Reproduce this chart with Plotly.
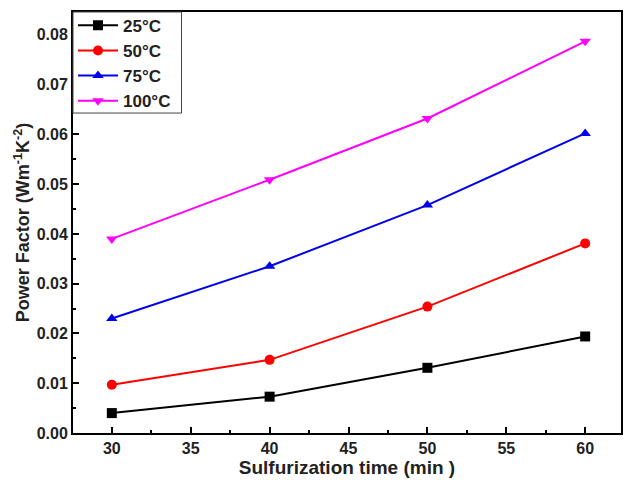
import plotly.graph_objects as go

time_min = [30, 40, 50, 60]
pf_25 = [0.0040, 0.0073, 0.0131, 0.0194]
pf_50 = [0.0097, 0.0147, 0.0254, 0.0381]
pf_75 = [0.0230, 0.0335, 0.0458, 0.0602]
pf_100 = [0.0390, 0.0509, 0.0632, 0.0787]

series = [
    ("25°C", pf_25, "#000000", "square"),
    ("50°C", pf_50, "#ff0000", "circle"),
    ("75°C", pf_75, "#0000ee", "triangle-up"),
    ("100°C", pf_100, "#ff00ff", "triangle-down"),
]

fig = go.Figure()
for name, vals, color, sym in series:
    fig.add_trace(go.Scatter(
        x=time_min, y=vals, name=name, mode="lines+markers",
        line=dict(color=color, width=2),
        marker=dict(symbol=sym, size=10, color=color),
    ))

font_family = "Liberation Sans, Arial, sans-serif"

# legend frame
fig.add_shape(type="rect", xref="paper", yref="paper",
              x0=0, x1=0.198, y0=0.76, y1=1,
              line=dict(color="#444", width=1), fillcolor="white", layer="above")

fig.update_layout(
    width=628, height=480,
    margin=dict(l=73, r=5, t=12, b=47),
    paper_bgcolor="white", plot_bgcolor="white",
    font=dict(family=font_family, size=14, color="#222"),
    showlegend=True,
    legend=dict(
        x=0, y=1.01, xanchor="left", yanchor="top",
        borderwidth=0, bgcolor="rgba(0,0,0,0)",
        font=dict(size=17, family=font_family, color="#222", weight="bold"),
        itemwidth=40, tracegroupgap=0,
    ),
    xaxis=dict(
        range=[27.54, 62.27], tickmode="linear", tick0=30, dtick=5,
        ticks="inside", ticklen=6, tickwidth=1.5, tickcolor="black",
        showline=True, linewidth=2, linecolor="black", mirror=True,
        showgrid=False, zeroline=False,
        minor=dict(ticks="inside", ticklen=3, tickwidth=1.5, tickcolor="black", dtick=2.5),
        tickfont=dict(size=16, family=font_family, color="#222", weight="bold"),
        title=dict(text="Sulfurization time (min )", standoff=3,
                   font=dict(size=19, family=font_family, color="#222", weight="bold")),
    ),
    yaxis=dict(
        range=[0, 0.0846], tickmode="linear", tick0=0, dtick=0.01, tickformat=".2f",
        ticks="inside", ticklen=6, tickwidth=1.5, tickcolor="black",
        showline=True, linewidth=2, linecolor="black", mirror=True,
        showgrid=False, zeroline=False,
        minor=dict(ticks="inside", ticklen=3, tickwidth=1.5, tickcolor="black", dtick=0.005),
        tickfont=dict(size=16, family=font_family, color="#222", weight="bold"),
        title=dict(text="Power Factor (Wm<sup>-1</sup>K<sup>-2</sup>)", standoff=2,
                   font=dict(size=18, family=font_family, color="#222", weight="bold")),
    ),
)

fig.write_html("out.html", config={"displayModeBar": False},
               post_script="document.body.style.margin='0';")
